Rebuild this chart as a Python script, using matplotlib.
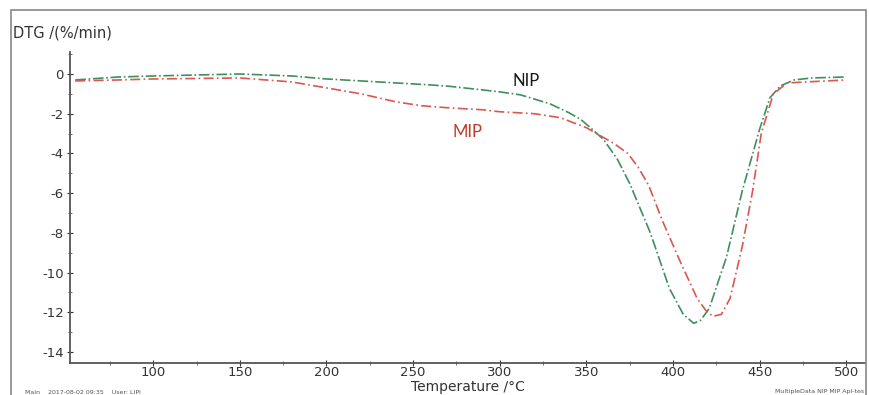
import matplotlib
matplotlib.use("Agg")
import matplotlib.pyplot as plt
from matplotlib.patches import Rectangle
from matplotlib.ticker import MultipleLocator

plt.rcParams['font.family'] = ['DejaVu Sans']
plt.rcParams['axes.unicode_minus'] = False

# NIP curve (green)
t_nip = [55, 80, 100, 150, 180, 200, 230, 260, 271, 290, 300, 312, 329, 340,
         347, 353, 360, 368, 375, 387, 398, 406, 412, 416, 421, 431, 440, 450,
         456, 462, 470, 480, 500]
dtg_nip = [-0.3, -0.15, -0.1, 0.0, -0.1, -0.25, -0.4, -0.55, -0.62, -0.8,
           -0.9, -1.05, -1.5, -1.95, -2.3, -2.75, -3.3, -4.3, -5.5, -8.0,
           -10.8, -12.1, -12.55, -12.4, -11.8, -9.2, -5.9, -2.8, -1.2, -0.6,
           -0.3, -0.2, -0.15]

# MIP curve (red)
t_mip = [55, 80, 100, 150, 180, 200, 220, 240, 255, 270, 290, 300, 320, 335,
         350, 358, 366, 374, 380, 386, 394, 404, 414, 419, 423, 428, 433, 440,
         446, 451, 458, 466, 477, 500]
dtg_mip = [-0.35, -0.3, -0.25, -0.2, -0.4, -0.7, -1.0, -1.4, -1.6, -1.7,
           -1.8, -1.9, -2.0, -2.2, -2.7, -3.1, -3.5, -4.0, -4.7, -5.6, -7.4,
           -9.4, -11.3, -11.9, -12.2, -12.1, -11.3, -8.7, -5.9, -3.0, -1.0,
           -0.45, -0.4, -0.3]

x_ticks = [100, 150, 200, 250, 300, 350, 400, 450, 500]
y_ticks = [0, -2, -4, -6, -8, -10, -12, -14]

fig = plt.figure(figsize=(8.69, 3.95), dpi=100)
ax = fig.add_axes([0.0806, 0.081, 0.915, 0.787])

ax.plot(t_nip, dtg_nip, color='#3f8f5c', lw=1.2, ls='-.')
ax.plot(t_mip, dtg_mip, color='#d9574f', lw=1.2, ls=(0, (6, 2, 1, 2)))

ax.set_xlim(52, 511)
ax.set_ylim(-14.55, 1.1)
ax.set_xticks(x_ticks)
ax.set_yticks(y_ticks)
ax.xaxis.set_minor_locator(MultipleLocator(25))
ax.yaxis.set_minor_locator(MultipleLocator(1))
ax.tick_params(which='major', direction='inout', length=5, labelsize=9.5,
               colors='#333333')
ax.tick_params(which='minor', direction='inout', length=3, colors='#555555')
ax.tick_params(axis='x', pad=0)
ax.tick_params(axis='y', pad=2)
ax.spines['top'].set_visible(False)
ax.spines['right'].set_visible(False)
for s in ['left', 'bottom']:
    ax.spines[s].set_color('#555555')
    ax.spines[s].set_linewidth(1.3)

ax.text(307.5, -0.35, 'NIP', fontsize=12, color='#1a1a1a', va='center',
        family=['Lato', 'DejaVu Sans'])
ax.text(272.5, -2.93, 'MIP', fontsize=12, color='#c0392b', va='center',
        family=['Lato', 'DejaVu Sans'])

fig.text(13/869, 1 - 33/395, 'DTG /(%/min)', fontsize=10.5, color='#333333', va='center')
fig.text(468/869, 1 - 387/395, 'Temperature /°C', fontsize=10, color='#333333',
         ha='center', va='center')
fig.text(25/869, 1 - 392/395, 'Main    2017-08-02 09:35    User: LIPI', fontsize=4.5,
         color='#555555', va='center')
fig.text(864/869, 1 - 392/395, 'MultipleData NIP MIP Apl-tes', fontsize=4.5,
         color='#555555', va='center', ha='right')

fig.patches.append(Rectangle((11/869, -0.05), (866 - 11)/869, 1.05 - 10/395,
                             transform=fig.transFigure, fill=False,
                             edgecolor='#888888', lw=1.2))

fig.savefig('out.png', dpi=100)
